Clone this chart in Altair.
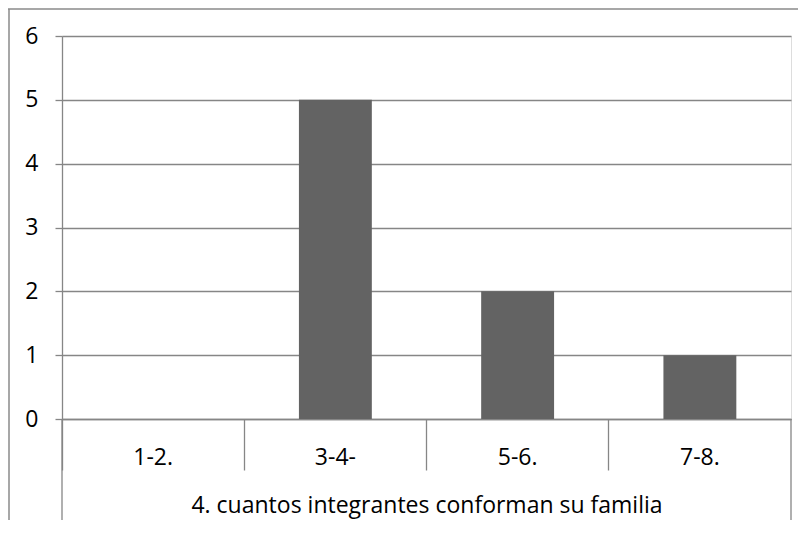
import altair as alt
import pandas as pd

categories = ["1-2.", "3-4-", "5-6.", "7-8."]
values = [0, 5, 2, 1]
y_ticks = [0, 1, 2, 3, 4, 5, 6]
x_title = "4. cuantos integrantes conforman su familia"

df = pd.DataFrame({"cat": categories, "val": values})

FONT = "Open Sans"
FS = 23
GRID = "#868686"
W, H = 729, 383

x_enc = alt.X(
    "cat:N",
    sort=categories,
    scale=alt.Scale(paddingInner=0, paddingOuter=0),
    axis=alt.Axis(
        title=x_title,
        titleFont=FONT, titleFontSize=FS, titleFontWeight="normal", titleColor="#000000",
        titleY=86, titleBaseline="middle",
        labelFont=FONT, labelFontSize=FS, labelColor="#000000",
        labelAngle=0, labelBaseline="middle", labelPadding=-13,
        bandPosition=0, tickSize=51, tickColor=GRID, tickWidth=1.3,
        domainColor=GRID, domainWidth=1.3, grid=False,
    ),
)

bars = alt.Chart(df).mark_bar(color="#636363", width=alt.RelativeBandSize(0.4)).encode(
    x=x_enc,
    y=alt.Y(
        "val:Q",
        scale=alt.Scale(domain=[0, 6], nice=False),
        axis=alt.Axis(
            title=None, values=y_ticks, format="d",
            labelFont=FONT, labelFontSize=FS, labelColor="#000000",
            labelPadding=17, tickSize=7, tickColor=GRID, tickWidth=1.3,
            domainColor=GRID, domainWidth=1.3,
            grid=True, gridColor=GRID, gridWidth=1.3,
        ),
    ),
)

frame = pd.DataFrame({"k": ["left", "right"]})
outer_left = alt.Chart(frame.iloc[[0]]).mark_rule(color=GRID, strokeWidth=1.3).encode(
    x=alt.value(0), y=alt.value(H), y2=alt.value(H + 103)
)
outer_right = alt.Chart(frame.iloc[[1]]).mark_rule(color=GRID, strokeWidth=1.3).encode(
    x=alt.value(W), y=alt.value(H), y2=alt.value(H + 103)
)
border_top = alt.Chart(frame.iloc[[0]]).mark_rule(color="#8a8a8a", strokeWidth=1.5).encode(
    x=alt.value(-54), x2=alt.value(W + 20), y=alt.value(-27)
)
border_left = alt.Chart(frame.iloc[[0]]).mark_rule(color="#8a8a8a", strokeWidth=1.5).encode(
    x=alt.value(-53), y=alt.value(-27), y2=alt.value(H + 120)
)

chart = alt.layer(bars, outer_left, outer_right, border_top, border_left).properties(
    width=W, height=H,
    autosize=alt.AutoSizeParams(type="none"),
    padding={"left": 54, "top": 28, "right": 7, "bottom": 101},
).configure_view(stroke=None).configure(background="#ffffff")

chart.save("out.html", embed_options={"renderer": "svg", "actions": False})
